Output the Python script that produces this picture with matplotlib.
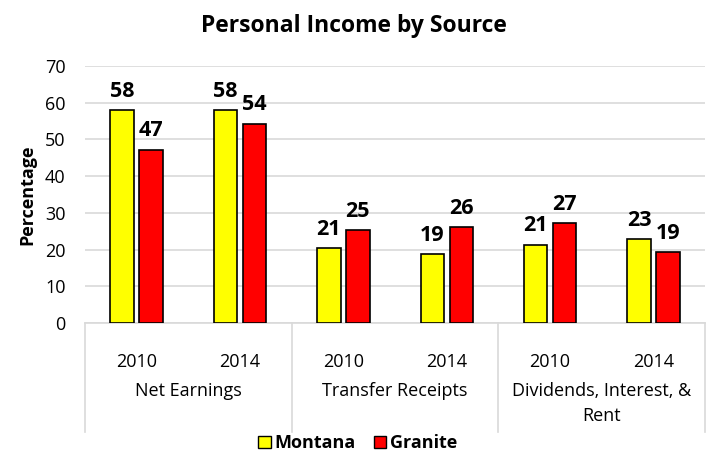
import numpy as np
import matplotlib.pyplot as plt
from matplotlib.patches import Patch
from matplotlib.lines import Line2D

# %% Data
groups = ['Net Earnings', 'Transfer Receipts', 'Dividends, Interest, &\nRent']
years = ['2010', '2014', '2010', '2014', '2010', '2014']
montana = [58.0, 58.0, 20.4, 18.7, 21.3, 22.8]
granite = [47.2, 54.3, 25.3, 26.1, 27.1, 19.3]
montana_lbl = [58, 58, 21, 19, 21, 23]
granite_lbl = [47, 54, 25, 26, 27, 19]

plt.rcParams['font.family'] = ['Open Sans', 'DejaVu Sans']

# %% Plot
fig = plt.figure(figsize=(7.08, 4.57), dpi=100)
ax = fig.add_axes([0.120, 0.293, 0.876, 0.563])

x = np.arange(len(years))
w = 0.226
off = 0.14
b1 = ax.bar(x - off, montana, w, color='#ffff00', edgecolor='black', linewidth=1.2, zorder=3)
b2 = ax.bar(x + off, granite, w, color='#ff0000', edgecolor='black', linewidth=1.2, zorder=3)

for bars, lbls in ((b1, montana_lbl), (b2, granite_lbl)):
    for b, l in zip(bars, lbls):
        ax.annotate(str(l), (b.get_x() + b.get_width() / 2, b.get_height()),
                    xytext=(0, 6), textcoords='offset points',
                    ha='center', va='bottom', fontsize=15.5, fontweight='bold')

ax.set_xlim(-0.5, len(years) - 0.5)
ax.set_ylim(0, 70)
ax.set_yticks(range(0, 71, 10))
ax.tick_params(axis='y', length=0, labelsize=13, pad=14)
ax.set_xticks([])
ax.grid(axis='y', color='#d9d9d9', linewidth=1.2, zorder=0)
for s in ['top', 'right', 'left']:
    ax.spines[s].set_visible(False)
ax.spines['bottom'].set_color('#d9d9d9')
ax.spines['bottom'].set_linewidth(1.2)

# two-level category axis
trans = ax.get_xaxis_transform()
for i, yr in enumerate(years):
    ax.text(i, -0.152, yr, transform=trans, ha='center', va='center', fontsize=13)
for g, name in enumerate(groups):
    ax.text(2 * g + 0.5, -0.23, name, transform=trans, ha='center', va='top',
            fontsize=13, linespacing=1.45)
for xs in [-0.5, 1.5, 3.5, 5.5]:
    ax.add_line(Line2D([xs, xs], [0, -0.425], transform=trans, color='#d9d9d9',
                       linewidth=1.2, clip_on=False))

ax.set_ylabel('Percentage', fontsize=13, fontweight='bold', labelpad=6)
fig.suptitle('Personal Income by Source', fontsize=16.5, fontweight='bold', y=0.97)

handles = [Patch(facecolor='#ffff00', edgecolor='black'),
           Patch(facecolor='#ff0000', edgecolor='black')]
leg = fig.legend(handles, ['Montana', 'Granite'], loc='center', bbox_to_anchor=(0.505, 0.03),
                 ncol=2, frameon=False, handlelength=0.7, handleheight=0.7,
                 handletextpad=0.2, columnspacing=1.0, prop={'weight': 'bold', 'size': 13})

fig.savefig('out.png', dpi=100)
